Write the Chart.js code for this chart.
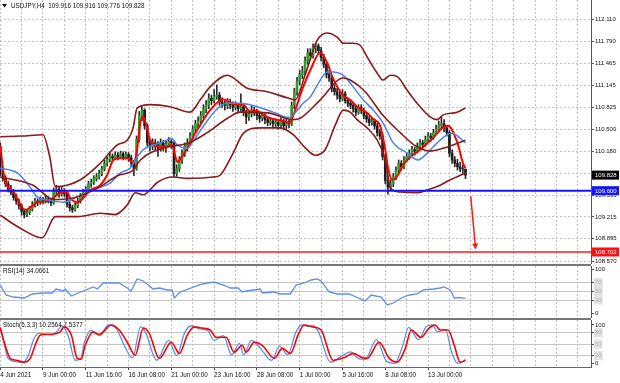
<!DOCTYPE html>
<html>
<head>
<meta charset="utf-8">
<script src="https://cdn.jsdelivr.net/npm/chart.js@4.4.0/dist/chart.umd.min.js"></script>
<style>
    html, body { margin: 0; padding: 0; background: #fff; }
    #wrap { position: relative; width: 620px; height: 383px; overflow: hidden; }
    canvas { position: absolute; left: 0; }
    .sep { position: absolute; left: 0; width: 591px; height: 2px; background: #777; }
</style>
</head>
<body>
<div id="wrap">
    <canvas id="mainCanvas" width="620" height="264" style="top:0"></canvas>
    <div class="sep" style="top:264px"></div>
    <canvas id="rsiCanvas" width="620" height="52" style="top:266px"></canvas>
    <div class="sep" style="top:318px"></div>
    <canvas id="stochCanvas" width="620" height="63" style="top:320px"></canvas>
</div>
<script>
// H4 bars, index 0 = 4 Jun 2021 16:00
const barOpen = [
    110.25,109.85,109.78,109.70,109.62,109.58,109.50,109.45,109.38,109.30,
    109.25,109.28,109.33,109.40,109.45,109.43,109.47,109.45,109.48,109.46,
    109.42,109.58,109.62,109.55,109.60,109.55,109.40,109.35,109.32,109.38,
    109.45,109.52,109.58,109.62,109.70,109.72,109.78,109.80,109.85,109.92,
    110.00,110.05,110.10,110.08,110.12,110.10,110.14,110.10,110.13,110.08,
    110.00,109.92,110.35,110.70,110.78,110.55,110.30,110.25,110.30,110.28,
    110.22,110.30,110.25,110.28,110.32,110.30,109.85,109.92,110.05,110.15,
    110.25,110.30,110.40,110.50,110.58,110.62,110.70,110.80,110.85,110.95,
    110.92,110.98,111.00,110.90,110.88,110.85,110.90,110.86,110.82,110.85,
    110.80,110.83,110.75,110.68,110.72,110.78,110.75,110.70,110.66,110.70,
    110.64,110.60,110.62,110.58,110.60,110.56,110.62,110.55,110.60,110.58,
    110.85,111.05,111.20,111.30,111.35,111.50,111.62,111.58,111.70,111.72,
    111.65,111.55,111.45,111.30,111.25,111.10,111.05,111.00,110.95,111.02,
    110.92,110.88,110.85,110.80,110.75,110.82,110.78,110.70,110.65,110.60,
    110.62,110.55,110.45,110.40,110.10,109.75,109.65,109.70,109.80,109.90,
    110.00,109.95,110.05,110.10,110.15,110.20,110.18,110.25,110.30,110.28,
    110.35,110.40,110.38,110.45,110.50,110.55,110.58,110.52,110.45,110.15,
    110.05,110.00,109.95,109.92,109.916
];
const barHigh = [
    110.30,109.90,109.82,109.74,109.68,109.62,109.55,109.48,109.41,109.33,
    109.32,109.37,109.44,109.49,109.48,109.51,109.50,109.52,109.51,109.49,
    109.64,109.68,109.65,109.66,109.63,109.58,109.44,109.39,109.42,109.49,
    109.56,109.62,109.66,109.74,109.77,109.82,109.85,109.90,109.96,110.05,
    110.09,110.15,110.14,110.17,110.16,110.18,110.17,110.17,110.16,110.12,
    110.04,110.40,110.76,110.83,110.80,110.58,110.36,110.36,110.35,110.32,
    110.36,110.34,110.33,110.38,110.35,110.32,109.98,110.10,110.20,110.30,
    110.36,110.45,110.55,110.63,110.68,110.76,110.86,110.92,111.02,111.00,
    111.08,111.15,111.04,110.96,110.92,110.95,110.94,110.90,110.90,110.88,
    111.02,110.86,110.78,110.76,110.84,110.82,110.79,110.74,110.75,110.73,
    110.68,110.67,110.65,110.65,110.63,110.67,110.65,110.65,110.64,110.90,
    111.10,111.26,111.36,111.42,111.56,111.68,111.68,111.75,111.76,111.75,
    111.70,111.60,111.48,111.36,111.28,111.15,111.10,111.06,111.08,111.05,
    110.96,110.93,110.89,110.84,110.86,110.86,110.81,110.74,110.69,110.67,
    110.65,110.59,110.50,110.43,110.14,109.82,109.76,109.85,109.95,110.05,
    110.04,110.10,110.15,110.20,110.25,110.24,110.30,110.35,110.34,110.40,
    110.45,110.44,110.50,110.56,110.62,110.68,110.64,110.56,110.48,110.20,
    110.10,110.06,110.02,109.98,109.916
];
const barLow = [
    109.82,109.74,109.66,109.58,109.54,109.46,109.40,109.33,109.24,109.20,
    109.22,109.25,109.30,109.36,109.38,109.40,109.41,109.42,109.42,109.38,
    109.40,109.54,109.50,109.52,109.51,109.36,109.30,109.28,109.30,109.35,
    109.42,109.49,109.54,109.59,109.65,109.69,109.74,109.77,109.82,109.89,
    109.96,110.02,110.03,110.05,110.05,110.07,110.05,110.06,110.03,109.95,
    109.82,109.90,110.32,110.62,110.50,110.25,110.18,110.20,110.20,110.10,
    110.18,110.18,110.16,110.24,110.22,109.80,109.81,109.88,110.00,110.10,
    110.18,110.26,110.36,110.45,110.52,110.58,110.66,110.74,110.80,110.86,
    110.88,110.94,110.85,110.82,110.78,110.80,110.80,110.76,110.78,110.74,
    110.76,110.70,110.58,110.63,110.68,110.70,110.64,110.60,110.62,110.58,
    110.55,110.56,110.53,110.54,110.50,110.52,110.49,110.51,110.52,110.55,
    110.80,111.00,111.15,111.24,111.30,111.45,111.52,111.54,111.62,111.60,
    111.50,111.40,111.25,111.20,111.05,111.00,110.94,110.90,110.92,110.88,
    110.83,110.80,110.75,110.70,110.72,110.73,110.65,110.60,110.55,110.56,
    110.50,110.40,110.35,110.05,109.70,109.55,109.60,109.66,109.76,109.86,
    109.90,109.92,110.02,110.06,110.12,110.12,110.15,110.22,110.22,110.25,
    110.32,110.32,110.35,110.42,110.46,110.50,110.46,110.40,110.10,110.00,
    109.95,109.90,109.88,109.86,109.776
];
const barClose = [
    109.85,109.78,109.70,109.62,109.58,109.50,109.45,109.38,109.30,109.25,
    109.28,109.33,109.40,109.45,109.43,109.47,109.45,109.48,109.46,109.42,
    109.58,109.62,109.55,109.60,109.55,109.40,109.35,109.32,109.38,109.45,
    109.52,109.58,109.62,109.70,109.72,109.78,109.80,109.85,109.92,110.00,
    110.05,110.10,110.08,110.12,110.10,110.14,110.10,110.13,110.08,110.00,
    109.92,110.35,110.70,110.78,110.55,110.30,110.25,110.30,110.28,110.22,
    110.30,110.25,110.28,110.32,110.30,109.85,109.92,110.05,110.15,110.25,
    110.30,110.40,110.50,110.58,110.62,110.70,110.80,110.85,110.95,110.92,
    110.98,111.00,110.90,110.88,110.85,110.90,110.86,110.82,110.85,110.80,
    110.83,110.75,110.68,110.72,110.78,110.75,110.70,110.66,110.70,110.64,
    110.60,110.62,110.58,110.60,110.56,110.62,110.55,110.60,110.58,110.85,
    111.05,111.20,111.30,111.35,111.50,111.62,111.58,111.70,111.72,111.65,
    111.55,111.45,111.30,111.25,111.10,111.05,111.00,110.95,111.02,110.92,
    110.88,110.85,110.80,110.75,110.82,110.78,110.70,110.65,110.60,110.62,
    110.55,110.45,110.40,110.10,109.75,109.65,109.70,109.80,109.90,110.00,
    109.95,110.05,110.10,110.15,110.20,110.18,110.25,110.30,110.28,110.35,
    110.40,110.38,110.45,110.50,110.55,110.58,110.52,110.45,110.15,110.05,
    110.00,109.95,109.92,109.916,109.828
];

// indicator lines: [bar index, value]
const fastMA = [
    [0,110.27],[1.5,109.80],[5,109.58],[9.3,109.32],[14,109.43],[18.7,109.46],[22.4,109.57],[25,109.58],
    [26.2,109.49],[28.8,109.43],[31,109.49],[33.7,109.61],[37.4,109.68],[40,109.83],[42.3,110.05],[45,110.08],
    [47.5,110.08],[49.7,110.0],[51.2,110.2],[52.4,110.6],[53.5,110.68],[56,110.35],[58.7,110.25],[61.7,110.24],
    [64.3,110.27],[65.4,110.12],[66.2,110.02],[68,110.1],[70,110.22],[72.2,110.39],[74.8,110.56],[78.5,110.78],
    [83.4,110.94],[87.1,110.87],[90.9,110.86],[93.5,110.76],[96.1,110.77],[98.4,110.71],[101,110.66],[104.7,110.63],
    [108.5,110.6],[109.6,110.7],[113.3,111.12],[115.9,111.36],[119.7,111.62],[122.3,111.47],[124.5,111.24],[128.3,110.99],
    [130.9,110.93],[133.5,110.83],[137.2,110.74],[139.5,110.65],[142.1,110.55],[144,110.2],[145.1,109.92],[146.6,109.76],
    [148.8,109.83],[150.7,109.98],[153.3,110.09],[157,110.2],[162,110.38],[165.7,110.53],[167.5,110.55],[170.9,110.31],
    [173.1,110.0],[174,109.93]
];
const slowMA = [
    [0,109.93],[6.4,109.86],[11.2,109.65],[13.8,109.51],[18.7,109.46],[23.6,109.43],[28.8,109.51],[37.4,109.65],
    [41.1,109.71],[44.9,109.86],[48.6,109.93],[51.2,110.09],[53.5,110.2],[59.8,110.3],[64.3,110.36],[66.2,110.27],
    [70,110.22],[72.2,110.33],[78.5,110.68],[81.2,110.8],[84.9,110.88],[89.8,110.88],[96.1,110.83],[102.1,110.75],
    [108.5,110.67],[109.6,110.71],[113.3,110.88],[115.9,110.97],[119.7,111.22],[122.3,111.34],[124.5,111.34],[128.3,111.29],
    [132,111.12],[135.8,110.93],[139.5,110.78],[143.2,110.59],[147,110.3],[152.2,110.15],[156.3,110.05],[159.7,110.15],
    [163.4,110.3],[167.2,110.42],[169,110.44],[174,110.3]
];
const bandUpper = [
    [0,110.39],[8,110.40],[16,110.42],[18.5,110.1],[20.6,109.66],[25,109.68],[30,109.76],[37.4,110.0],
    [43.8,110.27],[47.5,110.34],[49.7,110.52],[51.2,110.81],[56,110.86],[63.6,110.83],[71,110.75],[74.8,110.93],
    [78.5,111.12],[84.9,111.29],[92.4,111.10],[99.9,111.05],[107.3,110.96],[110.3,110.93],[114,111.29],[118.5,111.8],
    [122.3,111.91],[126,111.85],[128.3,111.76],[132,111.76],[134.6,111.73],[137.2,111.56],[141,111.32],[143.2,111.22],
    [145.9,111.29],[148.5,111.27],[152.2,111.07],[155.9,110.88],[160.8,110.68],[163.4,110.64],[165.7,110.71],[170.9,110.75],
    [174,110.81]
];
const bandMiddle = [
    [0,109.80],[12.3,109.68],[20,109.47],[28,109.50],[37.4,109.66],[43.8,109.82],[49.7,109.90],[52.4,110.05],
    [62.5,110.24],[70,110.29],[77.4,110.45],[85,110.66],[89.8,110.75],[100,110.74],[109.6,110.64],[112.2,110.66],
    [119.7,110.93],[128.3,111.25],[130.9,111.22],[136.5,111.05],[143.2,110.70],[149.6,110.45],[155.2,110.26],[160.8,110.18],
    [167.2,110.24],[174,110.34]
];
const bandLower = [
    [0,109.24],[7.5,109.05],[15.7,108.91],[20.6,109.22],[28.8,109.22],[37.4,109.27],[43,109.25],[47.5,109.39],
    [50.5,109.57],[53.5,109.54],[56,109.61],[58.7,109.72],[64.7,109.80],[70,109.78],[79.7,109.80],[82.3,109.83],
    [87.1,110.15],[90.9,110.44],[97.2,110.52],[104.7,110.52],[109.6,110.42],[114,110.23],[117.8,110.12],[121.5,110.20],
    [125.3,110.56],[128.3,110.78],[130.9,110.75],[133.5,110.64],[137.2,110.52],[141,110.34],[144,110.05],[145.9,109.64],
    [149.6,109.58],[155.9,109.57],[159.7,109.61],[164.5,109.68],[168.3,109.76],[174,109.86]
];
const rsiLine = [
    [0,64.3],[2.2,41.6],[4.9,37],[9,34.8],[12,43.9],[16.1,46.1],[19.4,46.1],[20.9,55.2],[23.6,50.7],[24.3,55.2],
    [26.6,39.3],[31,50.7],[34.8,59.8],[36.3,55.2],[38.5,68.9],[44.5,68.9],[47.5,57.5],[49,50.7],[51.2,78],[53.5,73.4],
    [57.2,55.2],[59.5,57.5],[62.5,53],[64.3,53],[65.1,34.8],[67.3,48.4],[72.5,59.8],[75.5,66.6],[80,71.1],[84.5,62],
    [86,57.5],[89,57.5],[90.5,48.4],[92,50.7],[97.2,55.2],[98,46.1],[102.5,48.4],[104.7,43.9],[108.5,43.9],[110.7,64.3],
    [113.7,68.9],[116.3,75.7],[118.5,78],[120,73.4],[123,48.4],[126,43.9],[130.5,43.9],[136.5,28],[138.7,41.6],[142.5,37],
    [144.7,18.9],[147,23.4],[150,34.8],[153,41.6],[156,43.9],[158.2,53],[162,55.2],[164.5,57.5],[166,59.8],[168.3,53],
    [169.8,34.8],[172,35.5],[174,34.07]
];
const stochMain = [
    [0,95],[1.5,50],[3,12],[5.5,5],[8.5,2],[10.5,20],[12.5,62],[14.5,78],[19,74],[21.5,85],
    [23,98],[25.5,70],[28,8],[30,10],[31.5,55],[34,86],[36,76],[38,80],[40.5,100],[43.5,90],
    [46.5,45],[49.5,14],[52.5,96],[54.5,78],[58.5,8],[63,60],[66,20],[69,80],[71.5,98],[74.5,90],
    [77.5,86],[80,60],[83.5,72],[86.5,22],[89.5,52],[91,22],[94,60],[97,42],[101.5,8],[104.5,45],
    [107.5,22],[110.5,80],[112.7,100],[115,96],[117,98],[119,82],[123.5,3],[128,20],[131,30],[134,12],
    [136.5,10],[140.7,62],[144.5,5],[147.5,0],[150.5,45],[152.7,94],[156.4,62],[159.4,96],[161.7,100],[163.5,82],
    [166.5,88],[168.8,30],[171,0],[172.5,2],[174,10.26]
];
const stochSignal = [
    [0,92],[2.2,39],[3.7,13],[6,8],[9,3],[11.2,13],[13.5,55],[15,74],[19.4,76],[22.4,82],
    [23.9,95],[26.6,74],[28.8,13],[30.3,11],[31.8,47],[34.8,82],[37,74],[41.5,100],[44.5,87],[47.5,55],
    [50.5,21],[53.5,92],[55.7,79],[59.5,13],[64,55],[67,26],[70,74],[72.5,95],[75.5,92],[78.5,87],
    [80.8,68],[84.5,68],[87.5,29],[90.5,47],[92,29],[95,55],[98,47],[102.5,13],[105.5,39],[108.5,26],
    [111.4,74],[113.7,100],[117,95],[120,87],[124.5,8],[129,16],[132,26],[135,16],[137.2,13],[141.7,55],
    [145.5,13],[148.5,3],[151.5,39],[153.7,87],[157.4,68],[160.4,92],[162.7,100],[164.5,87],[167.5,87],[169.8,47],
    [172,3],[174,7.54]
];

const priceTicks = [112.110, 111.790, 111.465, 111.145, 110.825, 110.500, 110.180, 109.855, 109.535, 109.215, 108.895, 108.570];
const gridBars = [0, 8, 16, 24, 32, 40, 48, 56, 64, 72, 80, 88, 96, 104, 112, 120, 128, 136, 144, 152, 160, 168, 176, 184, 192, 200, 208, 216];
const labelBars = [0, 16, 32, 48, 64, 80, 96, 112, 128, 144, 160];
const labelTexts = ['4 Jun 2021', '9 Jun 00:00', '11 Jun 16:00', '16 Jun 08:00', '21 Jun 00:00', '23 Jun 16:00',
    '28 Jun 08:00', '1 Jul 00:00', '5 Jul 16:00', '8 Jul 08:00', '13 Jul 00:00'];
const rsiLevels = [30, 50, 70];
const stochLevels = [20, 50, 80];

const lastPrice = 109.828;
const supportLevel = 109.600;
const targetLevel = 108.702;
const arrowFrom = [175.95, 109.52];
const arrowTo = [177.8, 108.74];

const X_MIN = -0.075, X_MAX = 220.94;

Chart.defaults.font.family = 'Liberation Sans, Arial, sans-serif';
Chart.defaults.font.size = 6.3;
Chart.defaults.color = '#111';

const toXY = arr => arr.map(p => ({ x: p[0], y: p[1] }));

function xAxis(withLabels) {
    return {
        type: 'linear', min: X_MIN, max: X_MAX, offset: false,
        afterBuildTicks: s => { s.ticks = gridBars.map(v => ({ value: v })); },
        grid: {
            color: '#c2c2c2', lineWidth: 1, offset: false,
            drawTicks: withLabels, tickLength: 3,
            tickColor: c => (c.tick && labelBars.includes(c.tick.value)) ? '#444' : 'rgba(0,0,0,0)'
        },
        border: { display: withLabels, color: '#666', dash: [2, 2] },
        ticks: {
            display: withLabels, autoSkip: false, maxRotation: 0, align: 'start', padding: 1, color: '#111',
            callback: v => { const k = labelBars.indexOf(v); return k < 0 ? '' : labelTexts[k]; }
        },
        afterFit: s => { s.height = withLabels ? 16 : 0; s.paddingLeft = 0; s.paddingRight = 0; }
    };
}

function levelAxis(min, max, levels) {
    const isLevel = c => c.tick && levels.includes(c.tick.value);
    return {
        position: 'right', min: min, max: max,
        afterBuildTicks: s => { s.ticks = [0].concat(levels, [100]).map(v => ({ value: v })); },
        ticks: {
            padding: 1, font: { size: 6 },
            callback: v => String(v),
            color: c => isLevel(c) ? '#b4b4b4' : '#111',
            showLabelBackdrop: c => isLevel(c),
            backdropColor: '#e2e2e2', backdropPadding: 1
        },
        grid: {
            color: c => isLevel(c) ? '#c4c4c4' : 'rgba(0,0,0,0)',
            tickLength: 3, tickColor: '#555'
        },
        border: { display: true, color: '#555' },
        afterFit: s => { s.width = 29; s.paddingTop = 0; s.paddingBottom = 0; }
    };
}

function panelTitle(text) {
    return {
        id: 'title_' + text.length,
        afterDraw(chart) {
            const ctx = chart.ctx;
            ctx.save();
            ctx.font = '6.3px Liberation Sans, Arial, sans-serif';
            ctx.fillStyle = '#111';
            ctx.textBaseline = 'middle';
            ctx.fillText(text, 3, 5);
            ctx.restore();
        }
    };
}

const mainOverlay = {
    id: 'mainOverlay',
    afterDatasetsDraw(chart) {
        const { ctx, scales: { x, y } } = chart;
        // forecast arrow
        const x1 = x.getPixelForValue(arrowFrom[0]), y1 = y.getPixelForValue(arrowFrom[1]);
        const x2 = x.getPixelForValue(arrowTo[0]), y2 = y.getPixelForValue(arrowTo[1]);
        const ang = Math.atan2(y2 - y1, x2 - x1);
        ctx.save();
        ctx.strokeStyle = '#ff1a1a';
        ctx.fillStyle = '#ff1a1a';
        ctx.lineWidth = 1.5;
        ctx.beginPath();
        ctx.moveTo(x1, y1);
        ctx.lineTo(x2 - 4 * Math.cos(ang), y2 - 4 * Math.sin(ang));
        ctx.stroke();
        ctx.beginPath();
        ctx.moveTo(x2, y2);
        ctx.lineTo(x2 - 6 * Math.cos(ang) + 3 * Math.sin(ang), y2 - 6 * Math.sin(ang) - 3 * Math.cos(ang));
        ctx.lineTo(x2 - 6 * Math.cos(ang) - 3 * Math.sin(ang), y2 - 6 * Math.sin(ang) + 3 * Math.cos(ang));
        ctx.closePath();
        ctx.fill();
        ctx.restore();
    },
    afterDraw(chart) {
        const { ctx, scales: { y } } = chart;
        ctx.save();
        // title
        ctx.font = '6.3px Liberation Sans, Arial, sans-serif';
        ctx.textBaseline = 'middle';
        ctx.fillStyle = '#111';
        ctx.beginPath();
        ctx.moveTo(2, 4); ctx.lineTo(7, 4); ctx.lineTo(4.5, 7.5); ctx.closePath();
        ctx.fill();
        ctx.fillText('USDJPY,H4  109.916 109.916 109.776 109.828', 11, 6);
        // price tags on the scale
        const tags = [[lastPrice, '#000'], [supportLevel, '#1414ff'], [targetLevel, '#ff1010']];
        ctx.font = '6px Liberation Sans, Arial, sans-serif';
        tags.forEach(t => {
            const py = y.getPixelForValue(t[0]);
            ctx.fillStyle = t[1];
            ctx.fillRect(592, py - 4.5, 27, 9);
            ctx.fillStyle = '#fff';
            ctx.fillText(t[0].toFixed(3), 595, py + 0.5);
        });
        ctx.restore();
    }
};

function lineSet(points, color, width) {
    return {
        type: 'line', data: toXY(points), borderColor: color, borderWidth: width,
        pointRadius: 0, cubicInterpolationMode: 'monotone', order: 0
    };
}

const upColor = '#2f9e2f', downColor = '#1c1c1c';
const bodyColors = barClose.map((c, i) => c >= barOpen[i] ? upColor : downColor);

new Chart(document.getElementById('mainCanvas'), {
    type: 'bar',
    data: {
        datasets: [
            lineSet([[X_MIN, supportLevel], [X_MAX, supportLevel]], '#1414ff', 2),
            lineSet([[X_MIN, targetLevel], [X_MAX, targetLevel]], '#ff1a1a', 1.6),
            lineSet(bandUpper, '#8b1a1a', 1.6),
            lineSet(bandMiddle, '#8b1a1a', 1.6),
            lineSet(bandLower, '#8b1a1a', 1.6),
            lineSet(slowMA, '#4a80f0', 1.5),
            lineSet(fastMA, '#ff0000', 2),
            {
                label: 'wick', order: 2, grouped: false, barThickness: 1,
                data: barHigh.map((h, i) => ({ x: i, y: [barLow[i], h] })),
                backgroundColor: '#2a2a2a', borderWidth: 0
            },
            {
                label: 'body', order: 1, grouped: false, barThickness: 2,
                data: barOpen.map((o, i) => ({ x: i, y: [o, barClose[i]] })),
                backgroundColor: bodyColors, borderWidth: 0
            }
        ]
    },
    options: {
        responsive: false, animation: false, devicePixelRatio: 1,
        layout: { padding: 0 },
        plugins: { legend: { display: false }, tooltip: { enabled: false } },
        scales: {
            x: xAxis(false),
            y: {
                position: 'right', min: 108.5262, max: 112.3927,
                afterBuildTicks: s => { s.ticks = priceTicks.map(v => ({ value: v })); },
                ticks: { callback: v => v.toFixed(3), font: { size: 6 }, color: '#111', padding: 1, autoSkip: false },
                grid: { color: '#c2c2c2', tickLength: 3, tickColor: '#555' },
                border: { display: true, color: '#555', dash: [2, 2] },
                afterFit: s => { s.width = 29; s.paddingTop = 0; s.paddingBottom = 0; }
            }
        }
    },
    plugins: [mainOverlay]
});

new Chart(document.getElementById('rsiCanvas'), {
    type: 'line',
    data: {
        datasets: [{
            data: toXY(rsiLine), borderColor: '#5f8fe8', borderWidth: 1.3, pointRadius: 0, tension: 0
        }]
    },
    options: {
        responsive: false, animation: false, devicePixelRatio: 1,
        layout: { padding: 0 },
        plugins: { legend: { display: false }, tooltip: { enabled: false } },
        scales: { x: xAxis(false), y: levelAxis(-10.7, 107.5, rsiLevels) }
    },
    plugins: [panelTitle('RSI(14) 34.0661')]
});

new Chart(document.getElementById('stochCanvas'), {
    type: 'line',
    data: {
        datasets: [
            { data: toXY(stochSignal), borderColor: '#ff0000', borderWidth: 1.6, pointRadius: 0, cubicInterpolationMode: 'monotone', order: 0 },
            { data: toXY(stochMain), borderColor: '#5f8fe8', borderWidth: 1.3, pointRadius: 0, cubicInterpolationMode: 'monotone', order: 1 }
        ]
    },
    options: {
        responsive: false, animation: false, devicePixelRatio: 1,
        layout: { padding: 0 },
        plugins: { legend: { display: false }, tooltip: { enabled: false } },
        scales: { x: xAxis(true), y: levelAxis(-9.66, 113.05, stochLevels) }
    },
    plugins: [panelTitle('Stoch(5,3,3) 10.2564 7.5377')]
});
</script>
</body>
</html>
